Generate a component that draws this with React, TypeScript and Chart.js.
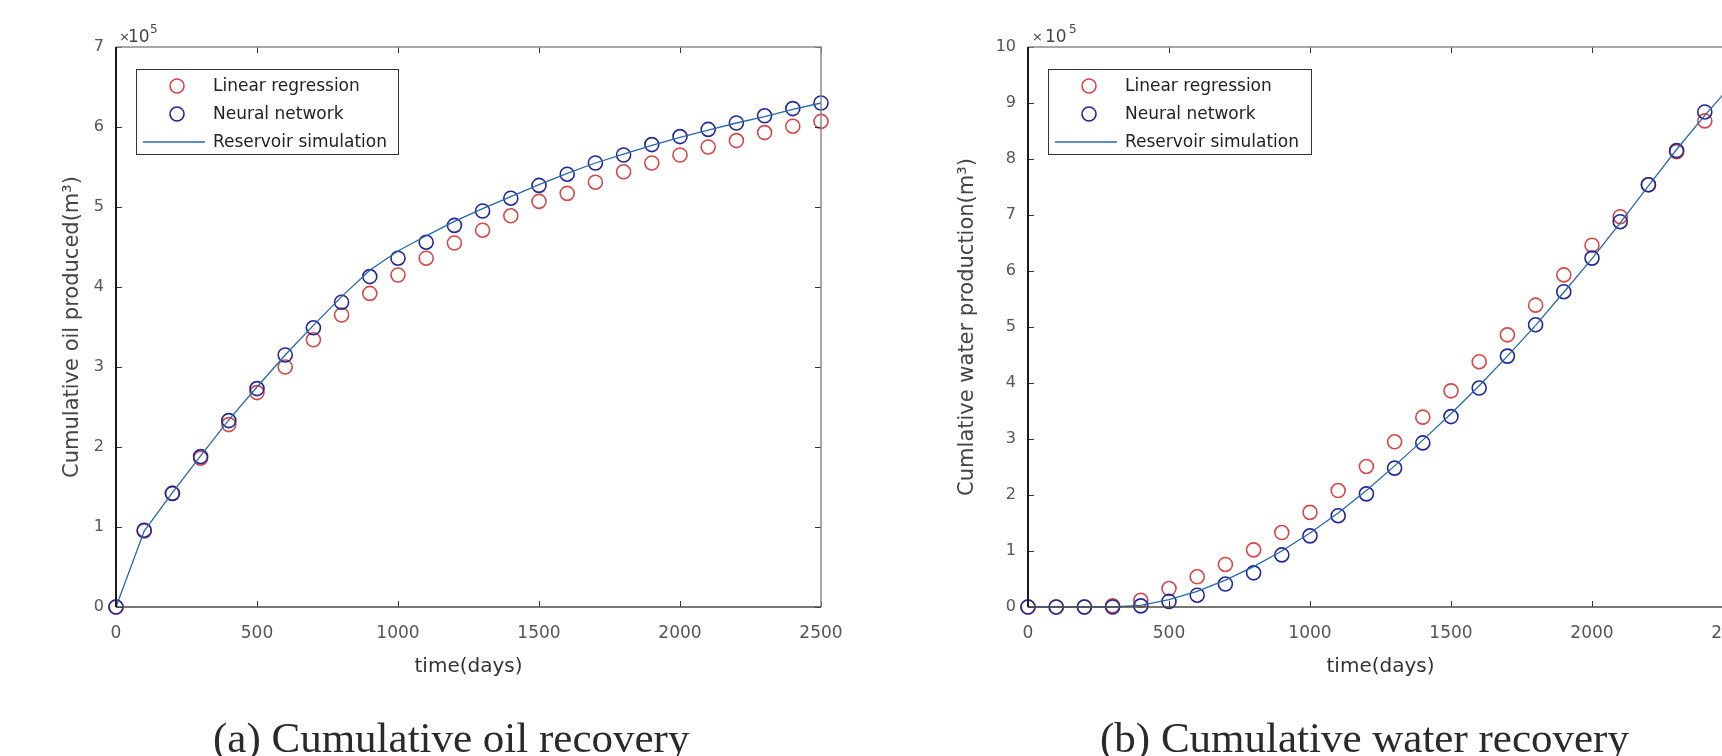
import React, { useEffect, useRef } from "react";
import { Chart, registerables } from "chart.js";

Chart.register(...registerables);

// ---------- data (values in units of 10^5 m^3) ----------
const days = [0, 100, 200, 300, 400, 500, 600, 700, 800, 900, 1000, 1100, 1200, 1300, 1400, 1500, 1600, 1700, 1800, 1900, 2000, 2100, 2200, 2300, 2400, 2500];

const oilLinear = [0, 0.95, 1.42, 1.86, 2.28, 2.68, 3.0, 3.34, 3.65, 3.92, 4.15, 4.36, 4.55, 4.71, 4.89, 5.07, 5.17, 5.31, 5.44, 5.55, 5.65, 5.75, 5.83, 5.93, 6.01, 6.07];
const oilNeural = [0, 0.96, 1.42, 1.88, 2.33, 2.73, 3.15, 3.49, 3.81, 4.13, 4.36, 4.56, 4.77, 4.95, 5.11, 5.27, 5.41, 5.55, 5.65, 5.78, 5.88, 5.97, 6.05, 6.14, 6.23, 6.3];
const oilSim = [0, 0.95, 1.43, 1.89, 2.34, 2.75, 3.15, 3.52, 3.88, 4.21, 4.45, 4.64, 4.82, 4.98, 5.13, 5.28, 5.42, 5.55, 5.66, 5.77, 5.87, 5.96, 6.05, 6.13, 6.22, 6.3];

const waterLinear = [0, 0, 0, 0.02, 0.12, 0.33, 0.54, 0.76, 1.02, 1.33, 1.69, 2.08, 2.51, 2.95, 3.39, 3.86, 4.38, 4.86, 5.39, 5.93, 6.46, 6.97, 7.54, 8.13, 8.68, 9.2];
const waterNeural = [0, 0, 0, 0, 0.02, 0.1, 0.21, 0.41, 0.61, 0.93, 1.27, 1.63, 2.02, 2.48, 2.93, 3.4, 3.91, 4.48, 5.04, 5.63, 6.23, 6.88, 7.54, 8.15, 8.84, 9.4];
const waterSim = [0, 0, 0, 0, 0.03, 0.13, 0.28, 0.48, 0.72, 1.0, 1.32, 1.68, 2.08, 2.52, 2.98, 3.45, 3.95, 4.48, 5.03, 5.62, 6.22, 6.86, 7.52, 8.17, 8.78, 9.35];

const xTicks = [0, 500, 1000, 1500, 2000, 2500];
const oilYTicks = [0, 1, 2, 3, 4, 5, 6, 7];
const waterYTicks = [0, 1, 2, 3, 4, 5, 6, 7, 8, 9, 10];

const seriesNames = ["Linear regression", "Neural network", "Reservoir simulation"];
const xTitle = "time(days)";
const oilYTitle = "Cumulative oil produced(m\u00B3)";
const waterYTitle = "Cumlative water production(m\u00B3)";
const oilCaption = "(a) Cumulative oil recovery";
const waterCaption = "(b) Cumulative water recovery";

// ---------- styles ----------
const RED = "rgb(212,72,72)";
const BLUE = "rgb(32,40,150)";
const LINE = "rgb(38,104,170)";
const SANS = "'DejaVu Sans', sans-serif";
const SERIF = "'Liberation Serif', serif";

const panelPlugin = {
  id: "panel",
  afterDatasetsDraw(chart: any, _args: any, o: any) {
    const { ctx, chartArea: a, scales } = chart;
    const xs = scales.x;
    const ys = scales.y;
    ctx.save();
    const L = 6;
    ctx.strokeStyle = "#333";
    ctx.lineWidth = 1;
    xs.ticks.forEach((t: any) => {
      const px = Math.round(xs.getPixelForValue(t.value)) + 0.5;
      ctx.beginPath();
      ctx.moveTo(px, a.bottom);
      ctx.lineTo(px, a.bottom - L);
      ctx.moveTo(px, a.top);
      ctx.lineTo(px, a.top + L);
      ctx.stroke();
    });
    ys.ticks.forEach((t: any) => {
      const py = Math.round(ys.getPixelForValue(t.value)) + 0.5;
      ctx.beginPath();
      ctx.moveTo(a.left, py);
      ctx.lineTo(a.left + L, py);
      ctx.moveTo(a.right, py);
      ctx.lineTo(a.right - L, py);
      ctx.stroke();
    });
    ctx.strokeStyle = "#8a8a8a";
    ctx.lineWidth = 1.5;
    ctx.beginPath();
    ctx.moveTo(a.left, a.top);
    ctx.lineTo(a.right, a.top);
    ctx.lineTo(a.right, a.bottom);
    ctx.stroke();
    ctx.strokeStyle = "#4a4a4a";
    ctx.lineWidth = 1.5;
    ctx.beginPath();
    ctx.moveTo(a.left, a.bottom);
    ctx.lineTo(a.right, a.bottom);
    ctx.stroke();
    ctx.strokeStyle = "#1a1a1a";
    ctx.lineWidth = 2;
    ctx.beginPath();
    ctx.moveTo(a.left, a.top);
    ctx.lineTo(a.left, a.bottom);
    ctx.stroke();
    ctx.restore();
  },
  afterDraw(chart: any, _args: any, o: any) {
    const { ctx, chartArea: a } = chart;
    ctx.save();
    const bx = a.left + 20;
    const by = a.top + 22;
    const bw = o.legendWidth;
    const bh = 85;
    ctx.fillStyle = "#fff";
    ctx.fillRect(bx, by, bw, bh);
    ctx.strokeStyle = "#333";
    ctx.lineWidth = 1;
    ctx.strokeRect(bx + 0.5, by + 0.5, bw, bh);
    const rowY = [17, 45, 73];
    ctx.font = `17px ${SANS}`;
    ctx.textBaseline = "middle";
    ctx.textAlign = "left";
    seriesNames.forEach((name, i) => {
      const cy = by + rowY[i];
      if (i < 2) {
        ctx.strokeStyle = i === 0 ? RED : BLUE;
        ctx.lineWidth = 1.6;
        ctx.beginPath();
        ctx.arc(bx + 41, cy, 7, 0, Math.PI * 2);
        ctx.stroke();
      } else {
        ctx.strokeStyle = LINE;
        ctx.lineWidth = 1.5;
        ctx.beginPath();
        ctx.moveTo(bx + 7, cy);
        ctx.lineTo(bx + 69, cy);
        ctx.stroke();
      }
      ctx.fillStyle = "#222";
      ctx.fillText(name, bx + 77, cy + 1);
    });
    const [ox, tx, fx] = o.expOffsets;
    ctx.fillStyle = "#444";
    ctx.textBaseline = "alphabetic";
    ctx.font = `13px ${SANS}`;
    ctx.fillText("\u00D7", a.left + ox, 41);
    ctx.font = `17px ${SANS}`;
    ctx.fillText("10", a.left + tx, 42);
    ctx.font = `12px ${SANS}`;
    ctx.fillText("5", a.left + fx, 33);
    ctx.fillStyle = "#2a2a2a";
    ctx.font = `43px ${SERIF}`;
    ctx.fillText(o.caption, o.captionX, 752);
    ctx.restore();
  },
};

function makeConfig(
  lin: number[],
  nn: number[],
  sim: number[],
  yTicks: number[],
  yTitle: string,
  padLeft: number,
  yWidth: number,
  panel: any
): any {
  const pts = (arr: number[]) => days.map((d, i) => ({ x: d, y: arr[i] }));
  return {
    type: "scatter",
    data: {
      datasets: [
        {
          label: seriesNames[2],
          data: pts(sim),
          showLine: true,
          borderColor: LINE,
          borderWidth: 1.3,
          pointRadius: 0,
          fill: false,
          clip: false,
          order: 0,
        },
        {
          label: seriesNames[1],
          data: pts(nn),
          borderColor: BLUE,
          backgroundColor: "rgba(0,0,0,0)",
          pointStyle: "circle",
          pointRadius: 7,
          pointBorderWidth: 1.6,
          clip: false,
          order: 1,
        },
        {
          label: seriesNames[0],
          data: pts(lin),
          borderColor: RED,
          backgroundColor: "rgba(0,0,0,0)",
          pointStyle: "circle",
          pointRadius: 7,
          pointBorderWidth: 1.6,
          clip: false,
          order: 2,
        },
      ],
    },
    options: {
      responsive: false,
      animation: false,
      events: [],
      layout: { padding: { left: padLeft, top: 47, right: 40, bottom: 77 } },
      plugins: {
        legend: { display: false },
        tooltip: { enabled: false },
        title: { display: false },
        panel,
      },
      scales: {
        x: {
          type: "linear",
          min: xTicks[0],
          max: xTicks[xTicks.length - 1],
          grid: { display: false, drawTicks: false },
          border: { display: false },
          afterBuildTicks: (s: any) => {
            s.ticks = xTicks.map((v) => ({ value: v }));
          },
          afterFit: (s: any) => {
            s.height = 72;
          },
          ticks: {
            padding: 16,
            color: "#555",
            font: { family: SANS, size: 17 },
            maxRotation: 0,
            callback: (v: any) => String(v),
          },
          title: {
            display: true,
            text: xTitle,
            color: "#333",
            font: { family: SANS, size: 20 },
            padding: 0,
          },
        },
        y: {
          type: "linear",
          min: yTicks[0],
          max: yTicks[yTicks.length - 1],
          grid: { display: false, drawTicks: false },
          border: { display: false },
          afterBuildTicks: (s: any) => {
            s.ticks = yTicks.map((v) => ({ value: v }));
          },
          afterFit: (s: any) => {
            s.width = yWidth;
          },
          ticks: {
            padding: 12,
            color: "#555",
            font: { family: SANS, size: 16 },
            callback: (v: any) => String(v),
          },
          title: {
            display: true,
            text: yTitle,
            color: "#444",
            font: { family: SANS, size: 21 },
            padding: 0,
          },
        },
      },
    },
    plugins: [panelPlugin],
  };
}

export default function App() {
  const leftRef = useRef<HTMLCanvasElement | null>(null);
  const rightRef = useRef<HTMLCanvasElement | null>(null);

  useEffect(() => {
    const c1 = new Chart(
      leftRef.current as HTMLCanvasElement,
      makeConfig(oilLinear, oilNeural, oilSim, oilYTicks, oilYTitle, 60, 56, {
        legendWidth: 262,
        expOffsets: [3, 12, 34],
        caption: oilCaption,
        captionX: 213,
      })
    );
    const c2 = new Chart(
      rightRef.current as HTMLCanvasElement,
      makeConfig(waterLinear, waterNeural, waterSim, waterYTicks, waterYTitle, 43, 73, {
        legendWidth: 263,
        expOffsets: [4, 17, 41],
        caption: waterCaption,
        captionX: 188,
      })
    );
    return () => {
      c1.destroy();
      c2.destroy();
    };
  }, []);

  return (
    <div
      style={{
        position: "fixed",
        left: 0,
        top: 0,
        width: 1722,
        height: 756,
        overflow: "hidden",
        background: "#fff",
      }}
    >
      <canvas
        ref={leftRef}
        width={861}
        height={756}
        style={{ position: "absolute", left: 0, top: 0, width: 861, height: 756 }}
      />
      <canvas
        ref={rightRef}
        width={861}
        height={756}
        style={{ position: "absolute", left: 912, top: 0, width: 861, height: 756 }}
      />
    </div>
  );
}
